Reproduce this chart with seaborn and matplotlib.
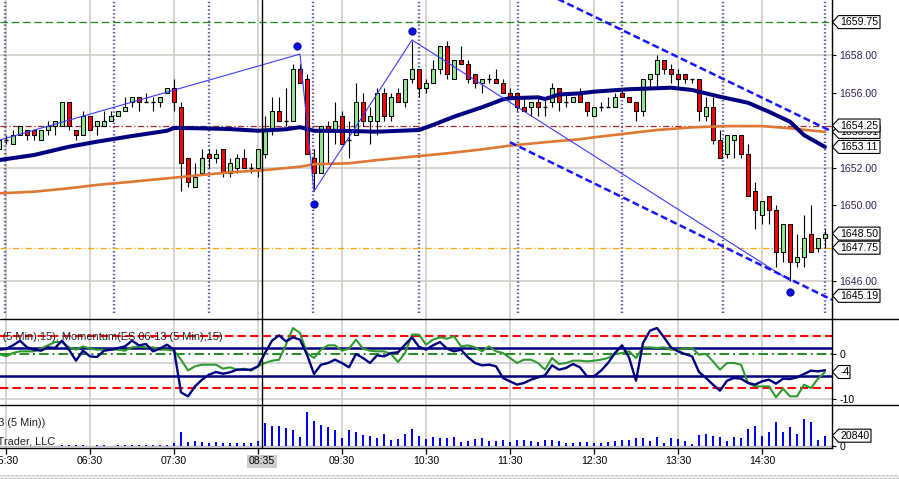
import numpy as np
import matplotlib
matplotlib.use("Agg")
import matplotlib.pyplot as plt
import seaborn as sns
from matplotlib.patches import Rectangle, Polygon
from matplotlib.lines import Line2D

sns.set_theme(style="white")
plt.rcParams['font.family'] = ['Liberation Sans', 'DejaVu Sans']

# ---------------- data ----------------
first_bar = "05:25"
opens = [1653.00,1653.50,1653.25,1653.75,1654.00,1654.00,1653.50,1654.00,1654.25,1654.25,
         1655.50,1654.00,1653.75,1654.75,1654.25,1654.25,1654.50,1654.75,1655.00,1655.50,
         1655.75,1655.50,1655.50,1655.50,1656.00,1656.25,1655.25,1652.50,1651.00,1651.75,
         1652.75,1652.50,1653.00,1651.75,1652.00,1652.50,1652.00,1652.00,1652.75,1654.00,
         1655.00,1654.50,1654.50,1657.25,1656.75,1652.50,1651.75,1654.25,1654.00,1654.75,
         1653.50,1653.75,1655.50,1654.50,1654.50,1656.00,1654.75,1656.00,1655.50,1656.75,
         1657.25,1656.25,1656.50,1657.25,1658.50,1656.75,1657.75,1657.50,1657.00,1656.50,
         1656.75,1656.75,1656.50,1656.00,1656.00,1655.25,1655.25,1655.50,1655.25,1655.50,
         1656.25,1655.50,1655.50,1656.00,1655.50,1654.75,1655.25,1655.25,1655.25,1656.00,
         1655.75,1655.50,1655.00,1656.75,1657.00,1657.75,1657.25,1657.00,1657.00,1656.75,
         1656.75,1654.75,1655.25,1653.50,1652.75,1653.50,1653.75,1652.75,1650.75,1649.50,
         1650.50,1649.75,1647.50,1649.00,1647.00,1647.25,1648.50,1647.75,1648.25]
highs = [1653.75,1653.75,1654.00,1654.25,1654.00,1654.00,1654.00,1654.50,1654.50,1655.50,
         1655.50,1654.00,1655.00,1654.75,1654.50,1655.00,1655.00,1655.00,1655.75,1655.75,
         1655.75,1656.00,1655.75,1655.75,1656.25,1656.75,1655.50,1652.50,1652.25,1653.00,
         1653.00,1653.00,1653.00,1652.50,1652.75,1653.00,1652.25,1653.00,1654.75,1655.75,
         1655.75,1656.25,1657.50,1657.50,1657.00,1653.00,1654.25,1654.50,1655.50,1655.00,
         1654.50,1656.50,1656.00,1655.25,1656.25,1656.25,1656.00,1656.25,1656.75,1658.75,
         1657.25,1656.75,1657.75,1658.50,1658.75,1657.75,1658.50,1657.75,1657.00,1656.75,
         1657.00,1657.25,1656.75,1656.25,1656.00,1655.75,1655.50,1655.75,1655.75,1656.50,
         1656.25,1656.00,1655.75,1656.25,1655.50,1655.25,1655.50,1655.75,1656.00,1656.25,
         1655.75,1655.50,1656.75,1657.00,1658.00,1657.75,1657.50,1657.25,1657.00,1656.75,
         1656.75,1655.75,1655.75,1654.00,1653.75,1653.75,1653.75,1653.25,1651.25,1650.25,
         1650.50,1650.00,1649.00,1649.00,1648.50,1649.50,1650.00,1648.25,1648.75]
lows = [1653.00,1653.25,1653.25,1653.75,1653.50,1653.50,1653.50,1653.75,1653.75,1654.25,
        1654.00,1653.50,1653.75,1654.00,1653.75,1654.25,1654.50,1654.75,1655.00,1655.25,
        1655.00,1655.50,1655.00,1655.25,1656.00,1655.00,1650.75,1651.00,1651.00,1651.75,
        1652.00,1652.25,1651.50,1651.50,1651.75,1652.00,1651.75,1651.50,1652.50,1653.75,
        1654.50,1654.25,1654.50,1656.50,1652.75,1650.75,1651.75,1652.25,1653.25,1653.25,
        1652.50,1653.75,1654.25,1653.25,1653.75,1654.50,1654.50,1655.50,1655.25,1656.50,
        1655.75,1656.00,1656.50,1657.00,1656.75,1656.75,1657.50,1656.50,1656.25,1656.00,
        1656.50,1656.50,1656.00,1655.75,1655.00,1655.00,1654.75,1654.75,1654.75,1655.25,
        1655.00,1655.25,1655.50,1655.50,1654.75,1654.75,1655.00,1655.25,1655.25,1655.75,
        1655.50,1654.50,1654.75,1656.25,1656.25,1657.00,1656.50,1656.25,1656.50,1656.50,
        1654.50,1654.50,1653.25,1652.50,1652.50,1652.50,1652.50,1650.50,1648.75,1649.00,
        1649.00,1646.75,1647.00,1646.00,1646.75,1646.75,1647.50,1647.50,1647.75]
closes = [1653.50,1653.50,1653.75,1654.25,1653.75,1653.75,1654.00,1654.25,1654.50,1655.50,
          1654.25,1653.75,1654.75,1654.00,1654.50,1654.50,1654.75,1655.00,1655.25,1655.75,
          1655.50,1655.50,1655.50,1655.75,1656.25,1655.50,1652.25,1651.25,1651.50,1652.50,
          1652.50,1652.75,1651.75,1652.25,1652.50,1652.00,1652.00,1653.00,1654.00,1655.00,
          1654.50,1654.50,1657.25,1656.50,1652.75,1651.75,1654.25,1654.00,1654.50,1653.25,
          1653.50,1655.50,1654.50,1654.75,1656.00,1654.75,1655.75,1655.50,1656.75,1657.25,
          1656.25,1656.50,1657.25,1658.50,1657.00,1657.75,1657.50,1656.75,1656.50,1656.75,
          1656.75,1656.50,1656.00,1655.75,1655.25,1655.00,1655.50,1655.25,1655.25,1656.25,
          1655.50,1655.50,1655.75,1655.50,1655.00,1655.25,1655.25,1655.25,1655.75,1655.75,
          1655.50,1655.00,1656.75,1657.00,1657.75,1657.25,1657.00,1656.75,1656.75,1656.75,
          1655.00,1655.25,1653.50,1652.50,1653.75,1653.75,1652.75,1650.50,1649.75,1650.25,
          1649.75,1647.50,1649.00,1647.00,1647.25,1648.25,1647.50,1648.25,1648.50]
volume = [700,800,600,900,700,800,600,900,1000,
          2000,1800,1500,1500,1000,1800,1800,1000,2000,2500,2500,2500,2200,2200,2200,2500,
          6700,29000,8800,10100,8100,5400,8100,6700,6700,6700,6700,6700,10100,
          47200,41100,41100,37100,33000,18900,69500,51200,42500,38400,33000,16900,33000,
          28300,21600,20200,16200,24300,12800,14800,24300,35100,20200,14800,18900,16900,
          15500,18900,8100,10800,13500,16200,10100,10800,12800,8800,12800,12800,10800,
          8800,12800,12800,9400,6700,6100,8100,8100,6100,6700,8100,10100,12800,12800,
          16200,15500,10800,18900,6100,15500,14200,10100,4000,22900,24900,20200,18900,
          10100,18900,16900,35100,41100,20900,28300,49200,28300,38400,24900,55300,48600,
          12800,20840]
momentum_a = [0.96,1.11,1.93,2.96,1.48,0.96,0.74,1.48,1.33,2.96,0.96,-1.48,0.74,-0.52,-0.67,
              0.74,0.96,1.33,1.70,2.96,1.93,2.22,0.59,1.19,2.07,0.96,-8.52,-9.41,-7.19,-5.70,
              -4.59,-4.00,-4.37,-4.07,-3.48,-3.48,-3.48,-2.74,0.22,2.96,4.15,2.81,3.70,3.19,
              -0.15,-4.44,-2.37,-2.00,-1.26,-2.00,-2.96,0.00,-0.89,-2.00,-0.30,-0.52,0.22,
              0.37,2.07,3.70,1.60,0.96,1.93,2.67,1.19,0.59,0.96,-0.74,-2.00,-2.52,-2.37,-2.74,
              -5.33,-6.07,-6.81,-6.44,-5.70,-5.19,-4.74,-2.52,-3.48,-3.11,-2.22,-2.96,-4.96,
              -4.96,-3.70,-2.00,0.22,1.93,-0.74,-5.93,2.44,5.19,5.78,3.70,1.48,0.59,0.00,
              -0.52,-4.00,-5.33,-6.81,-8.15,-5.93,-5.33,-5.48,-6.44,-6.81,-6.07,-5.70,-6.59,
              -5.48,-5.56,-5.19,-4.44,-3.70,-3.85,-3.60]
momentum_b = [0.00,-0.52,0.22,0.59,0.59,0.59,1.19,1.93,2.67,2.67,1.48,0.96,1.70,1.19,0.96,
              0.96,0.96,0.96,0.74,1.48,1.70,1.48,1.48,0.96,0.96,0.74,-1.26,-3.63,-2.74,-2.37,
              -2.37,-2.37,-3.26,-2.96,-3.48,-3.26,-3.70,-2.74,-2.00,-1.48,-1.26,2.07,5.78,4.67,
              0.22,-0.89,0.96,1.93,1.93,0.74,1.19,3.19,1.19,0.74,0.59,0.59,0.00,-1.78,0.22,
              4.30,4.30,2.07,3.19,3.70,3.41,3.93,1.70,1.93,1.48,0.59,1.70,0.59,0.22,-0.89,
              -2.00,-1.26,-1.26,-2.00,-3.48,-0.89,-2.22,-2.00,-1.48,-1.48,-1.63,-1.48,-1.26,
              -0.89,0.00,0.22,0.59,-0.89,1.48,1.48,1.33,1.48,0.96,0.96,1.19,1.33,-0.15,0.00,
              -1.63,-3.48,-2.00,-2.00,-2.37,-6.44,-7.19,-7.19,-7.19,-9.63,-7.70,-9.41,-9.41,
              -6.81,-7.56,-5.48,-4.00]

sma_fast_times = ["05:25","05:50","06:15","06:35","07:00","07:25","07:30","07:50","08:10","08:30",
                  "08:50","09:00","09:10","09:35","09:55","10:25","10:35","10:50","11:10","11:25",
                  "11:30","11:50","11:55","12:05","12:20","12:30","12:55","13:25","13:40","14:00",
                  "14:20","14:35","14:50","15:00","15:15"]
sma_fast = [1652.41,1652.68,1653.12,1653.39,1653.69,1653.97,1654.12,1654.10,1654.06,1653.97,
            1654.05,1654.16,1653.97,1653.96,1653.92,1654.01,1654.28,1654.72,1655.22,1655.64,
            1655.70,1655.75,1655.66,1655.90,1655.96,1656.05,1656.18,1656.26,1656.14,1655.78,
            1655.46,1654.98,1654.45,1653.74,1653.11]
sma_slow_times = ["05:25","05:50","06:15","06:35","07:00","07:25","07:50","08:10","08:35","09:00",
                  "09:10","09:35","09:55","10:20","10:45","11:10","11:30","11:55","12:20","12:30",
                  "12:55","13:15","13:40","14:05","14:30","14:50","15:15"]
sma_slow = [1650.64,1650.73,1650.91,1651.09,1651.26,1651.44,1651.62,1651.76,1651.88,1652.06,
            1652.19,1652.24,1652.41,1652.59,1652.77,1652.98,1653.18,1653.36,1653.52,1653.62,
            1653.84,1654.01,1654.15,1654.22,1654.22,1654.10,1653.91]

zigzag_times = ["05:25", "09:00", "09:10", "10:20", "14:50"]
zigzag_prices = [1653.47, 1658.05, 1650.75, 1658.80, 1646.00]
swing_times = ["08:58", "09:10", "10:20", "14:50"]
swing_prices = [1658.48, 1650.07, 1659.28, 1645.41]
chan_upper_times = ["11:40", "15:20"]
chan_upper_prices = [1661.85, 1653.93]
chan_lower_times = ["11:30", "15:20"]
chan_lower_prices = [1653.36, 1644.98]
cycle_times = ["05:29","06:47","07:55","09:09","10:25","11:36","12:50","14:02","15:15"]
price_levels = {"high": 1659.75, "mid": 1654.25, "low": 1647.75}
price_tags = [("1653.91", 1653.91), ("1654.25", 1654.25), ("1659.75", 1659.75),
              ("1653.11", 1653.11), ("1648.50", 1648.50), ("1647.75", 1647.75),
              ("1645.19", 1645.19)]
price_ticks = [1646, 1650, 1652, 1656, 1658]
price_grid = [1658, 1652, 1646]
mom_levels = {"red_hi": 4.0, "red_lo": -7.5, "navy_hi": 1.4, "navy_lo": -4.8, "zero": 0.0}
mom_grid = [-2, -10]
time_ticks = ["05:30","06:30","07:30","09:30","10:30","11:30","12:30","13:30","14:30"]
grid_times = ["05:30","06:30","07:30","08:30","09:30","10:30","11:30","12:30","13:30","14:30"]
cursor_time = "08:33"
cursor_label = "08:35"


def tmin(s):
    h, m = s.split(":")
    return int(h) * 60 + int(m)


N = len(closes)
bar_t = tmin(first_bar) + 5 * np.arange(N)

# ---------------- layout ----------------
W, H = 899, 479
fig = plt.figure(figsize=(W / 100, H / 100), dpi=100)
fig.patch.set_facecolor("white")


def frac(x0, y0, x1, y1):
    return [x0 / W, 1 - y1 / H, (x1 - x0) / W, (y1 - y0) / H]


ax_p = fig.add_axes(frac(0, 0, 832, 318.5))
ax_m = fig.add_axes(frac(0, 319, 832, 405))
ax_v = fig.add_axes(frac(0, 405, 832, 447.7))
XL = (325.714, 920.0)
for ax in (ax_p, ax_m, ax_v):
    ax.set_xlim(*XL)
    ax.set_facecolor("white")
    for s in ("left", "top", "bottom"):
        ax.spines[s].set_visible(False)
    ax.spines["right"].set_color("black")
    ax.spines["right"].set_linewidth(1.0)
    ax.yaxis.tick_right()
    ax.tick_params(axis="y", direction="out", length=3, width=0.8, pad=2.2,
                   labelsize=7.6, colors="black", right=True, left=False)
    ax.tick_params(axis="x", length=0, bottom=False, labelbottom=False)
    for gt in grid_times:
        ax.axvline(tmin(gt), color="#cdc7bf", lw=1.1, zorder=0.5)
    ax.axvline(tmin(cursor_time), color="black", lw=1.0, zorder=6)

ax_p.set_ylim(1643.984, 1660.926)
ax_m.set_ylim(-11.33, 7.78)
ax_v.set_ylim(-3440, 82900)

# ---------------- price panel ----------------
for g in price_grid:
    ax_p.axhline(g, color="#cdc7bf", lw=1.1, zorder=0.5)
for ct in cycle_times:
    ax_p.axvline(tmin(ct), ymin=0.017, ymax=1, color="#5a5aa6", lw=1.7,
                 ls=(0, (0.6, 1.0)), zorder=1)
ax_p.axhline(price_levels["high"], color="#1a8a1a", lw=0.9, ls=(0, (6, 3)), zorder=2)
ax_p.axhline(price_levels["mid"], color="#a52a2a", lw=0.9, ls=(0, (5, 2, 1, 2)), zorder=2)
ax_p.axhline(price_levels["low"], color="#ffa500", lw=0.9, ls=(0, (5, 2, 1, 2)), zorder=2)

bw = 3.1
for t, o, h, l, c in zip(bar_t, opens, highs, lows, closes):
    ax_p.vlines(t, l, h, color="black", lw=0.8, zorder=3)
    if c == o:
        ax_p.hlines(o, t - bw / 2, t + bw / 2, color="black", lw=1.0, zorder=3.2)
    else:
        col = "#90e890" if c > o else "#ff0000"
        ax_p.add_patch(Rectangle((t - bw / 2, min(o, c)), bw, abs(c - o), facecolor=col,
                                 edgecolor="black", lw=0.75, zorder=3.1))

sns.lineplot(x=[tmin(s) for s in sma_slow_times], y=sma_slow, ax=ax_p, color="#dd7733",
             linewidth=1.9, sort=False, errorbar=None, zorder=4)
sns.lineplot(x=[tmin(s) for s in sma_fast_times], y=sma_fast, ax=ax_p, color="#000080",
             linewidth=2.9, sort=False, errorbar=None, zorder=4.2)
ax_p.plot([tmin(s) for s in zigzag_times], zigzag_prices, color="#3a3aff", lw=0.8, zorder=5)
ax_p.plot([tmin(s) for s in chan_upper_times], chan_upper_prices, color="#1515ff", lw=1.8,
          dashes=(2.8, 1.4), zorder=5)
ax_p.plot([tmin(s) for s in chan_lower_times], chan_lower_prices, color="#1515ff", lw=1.8,
          dashes=(2.8, 1.4), zorder=5)
ax_p.scatter([tmin(s) for s in swing_times], swing_prices, s=28, color="#0a0aee",
             edgecolor="#000070", linewidth=0.6, zorder=7)

ax_p.set_yticks(price_ticks)
ax_p.set_yticklabels([f"{v:.2f}" for v in price_ticks], color="#33205a")
ax_p.set_xlabel("")
ax_p.set_ylabel("")

# ---------------- momentum panel ----------------
for g in mom_grid:
    ax_m.axhline(g, color="#c8c8c8", lw=1.1, zorder=0.5)
ax_m.axhline(mom_levels["red_hi"], color="#ff0000", lw=1.5, ls=(0, (4, 2)), zorder=2)
ax_m.axhline(mom_levels["red_lo"], color="#ff0000", lw=1.5, ls=(0, (4, 2)), zorder=2)
ax_m.axhline(mom_levels["navy_hi"], color="#000080", lw=1.8, zorder=2)
ax_m.axhline(mom_levels["navy_lo"], color="#000080", lw=1.8, zorder=2)
ax_m.axhline(mom_levels["zero"], color="#228b22", lw=1.4, ls=(0, (5, 2, 1, 2)), zorder=2)
sns.lineplot(x=bar_t, y=momentum_b, ax=ax_m, color="#2e9a2e", linewidth=1.5,
             sort=False, errorbar=None, zorder=3)
sns.lineplot(x=bar_t, y=momentum_a, ax=ax_m, color="#000080", linewidth=1.7,
             sort=False, errorbar=None, zorder=3.5)
ax_m.set_yticks([0, -10])
ax_m.set_yticklabels(["0", "-10"])
ax_m.set_xlabel("")
ax_m.set_ylabel("")

# ---------------- volume panel ----------------
ax_v.axhline(0, color="#c0c0c0", lw=1.0, zorder=1)
ax_v.bar(bar_t, volume, width=1.3, color="#0000ff", linewidth=0, antialiased=False, zorder=3)
ax_v.set_yticks([0])
ax_v.set_yticklabels(["0"])
ax_v.spines["bottom"].set_visible(True)
ax_v.spines["bottom"].set_color("black")
ax_v.spines["bottom"].set_linewidth(1.0)
ax_v.set_xticks([tmin(g) for g in grid_times])
ax_v.tick_params(axis="x", bottom=True, direction="out", length=4.1, width=0.9,
                 color="black", labelbottom=False)

# ---------------- figure level text / decoration ----------------
for yy in (319, 405):
    fig.add_artist(Line2D([0, 1], [1 - yy / H, 1 - yy / H], color="black", lw=1.0,
                          transform=fig.transFigure, zorder=5))


def tx(x_px, y_px, s, size=7.6, **kw):
    return fig.text(x_px / W, 1 - y_px / H, s, fontsize=size, **kw)


def xpix(t):
    return (t - XL[0]) / (XL[1] - XL[0]) * 832


for lab in time_ticks:
    tx(xpix(tmin(lab)), 461.5, lab, ha="center", va="center", color="black")
tx(xpix(tmin(cursor_time)), 461.5, cursor_label, ha="center", va="center", color="black",
   zorder=8, bbox=dict(boxstyle="square,pad=0.18", fc="#cccccc", ec="none"))

tx(223, 337, "Momentum(ES 06-13 (5 Min),15), Momentum(ES 06-13 (5 Min),15)", size=7.95,
   ha="right", va="center", color="#222222", zorder=6)
tx(45, 423, "VOL(ES 06-13 (5 Min))", size=7.95, ha="right", va="center",
   color="#222222", zorder=6)
tx(55, 442, "\u00a9 2013 NinjaTrader, LLC", size=7.95, ha="right", va="center",
   color="#222222", zorder=6)


def ypix(ax, v):
    return H - ax.transData.transform((XL[0], v))[1]


def tag(ax, v, s, right, z):
    y = ypix(ax, v)
    x0, hh = 832.5, 6.5
    pts = [(x0, y), (x0 + 6, y - hh), (right, y - hh), (right, y + hh), (x0 + 6, y + hh)]
    fig.add_artist(Polygon([(px / W, 1 - py / H) for px, py in pts], closed=True,
                           transform=fig.transFigure, fc="white", ec="black", lw=0.8,
                           zorder=z))
    tx(840.5, y, s, ha="left", va="center", color="black", zorder=z + 0.05)


z = 10
for s, v in price_tags:
    tag(ax_p, v, s, 880, z)
    z += 0.1
tag(ax_m, momentum_a[-1] - 0.4, "-4", 850, z)
tag(ax_v, volume[-1], f"{volume[-1]}", 871, z + 0.1)

fig.add_artist(Rectangle((0, 0), 1, 4.5 / H, transform=fig.transFigure, fc="#ececec",
                         ec="#b8b8b8", lw=0, hatch="....", zorder=1))

fig.savefig("out.png", dpi=100, facecolor="white")
